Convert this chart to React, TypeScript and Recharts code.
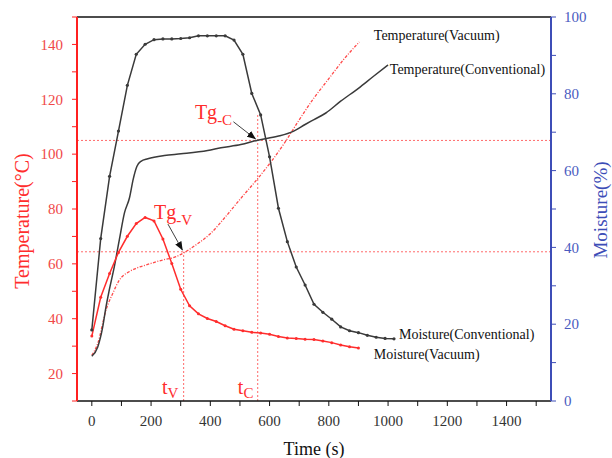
import { LineChart, Line, XAxis, YAxis, ReferenceLine } from 'recharts';

// conventional drying: moisture (right axis, %) sampled every 30 s
const moistConvTime = [
  0, 30, 60, 90, 120, 150, 180, 210, 240, 270, 300, 330, 360, 390, 420, 450, 480, 510,
  540, 570, 600, 630, 660, 690, 720, 750, 780, 810, 840, 870, 900, 930, 960, 990, 1020,
];
const moistConvValues = [
  18.5, 42.3, 58.5, 70.3, 82.2, 90.3, 92.9, 94.1, 94.3, 94.3, 94.4, 94.6, 95.1, 95.1, 95.1, 95.1, 94.0, 90.3,
  80.1, 74.5, 63.6, 50.2, 41.5, 34.9, 30.2, 25.2, 23.1, 21.3, 19.3, 18.3, 17.8, 17.1, 16.6, 16.3, 16.2,
];

// vacuum drying: moisture (right axis, %)
const moistVacTime = [
  0, 30, 60, 90, 120, 150, 180, 210, 240, 270, 300, 330, 360, 390, 420, 450,
  480, 510, 540, 570, 600, 630, 660, 690, 720, 750, 780, 810, 840, 870, 900,
];
const moistVacValues = [
  16.9, 27.0, 33.2, 38.7, 42.9, 46.2, 47.8, 46.9, 42.2, 35.8, 29.1, 24.8, 22.7, 21.5, 20.7, 19.6,
  18.7, 18.3, 17.9, 17.7, 17.4, 16.8, 16.4, 16.3, 16.1, 16.0, 15.6, 15.2, 14.6, 14.1, 13.8,
];

// temperatures (left axis, °C)
const tempConvTime = [
  0, 20, 37, 48, 59, 76, 93, 110, 127, 140, 152, 166, 189, 245, 301, 391, 436, 503,
  560, 627, 680, 720, 750, 790, 840, 900, 950, 1000,
];
const tempConvValues = [
  26.3, 29.7, 37.1, 44.4, 50.5, 59, 68.8, 78.5, 84, 91, 95.5, 97.4, 98.3, 99.5, 100.1, 101.3, 102.3, 103.5,
  105.1, 106.5, 108.3, 110.8, 112.6, 115, 119.3, 124, 128.3, 132.5,
];
const tempVacTime = [
  0, 20, 48, 71, 93, 127, 150, 183, 239, 284, 318, 350, 400, 450, 500, 550, 600, 650,
  700, 750, 800, 850, 903,
];
const tempVacValues = [
  26.7, 31, 43.2, 49.3, 54.1, 57.2, 58.4, 59.6, 61.4, 62.6, 64.5, 66.8, 71, 77, 83.5, 89.8, 96.5, 104,
  112.5, 120.5, 127.5, 134.5, 140.9,
];

// glass transition markers
const tgConv = { t: 560, T: 105 };
const tgVac = { t: 310, T: 64.4 };

const xTicks = [0, 100, 200, 300, 400, 500, 600, 700, 800, 900, 1000, 1100, 1200, 1300, 1400, 1500];
const leftTicks = [10, 20, 30, 40, 50, 60, 70, 80, 90, 100, 110, 120, 130, 140, 150];
const rightTicks = [0, 10, 20, 30, 40, 50, 60, 70, 80, 90, 100];

const X_DOMAIN: [number, number] = [-50, 1550];
const T_DOMAIN: [number, number] = [10, 150];

const zip = (ts: number[], vs: number[]) => ts.map((t, i) => ({ t, v: vs[i] }));
const moistConv = zip(moistConvTime, moistConvValues);
const moistVac = zip(moistVacTime, moistVacValues);
const tempConv = zip(tempConvTime, tempConvValues);
const tempVac = zip(tempVacTime, tempVacValues);

const W = 612;
const H = 458;
const MARGIN = { top: 17, left: 77, right: 61, bottom: 57 };
const plotW = W - MARGIN.left - MARGIN.right;
const plotH = H - MARGIN.top - MARGIN.bottom;
const FONT = '"Liberation Serif", "Times New Roman", serif';

const BLACK = '#3a3a3a';
const RED = '#ff2d2d';
const RED_LIGHT = '#ff6a6a';
const BLUE = '#3d4db7';

// data -> pixel, used for the overlay annotations
const px = (t: number) => MARGIN.left + ((t - X_DOMAIN[0]) / (X_DOMAIN[1] - X_DOMAIN[0])) * plotW;
const py = (T: number) => MARGIN.top + ((T_DOMAIN[1] - T) / (T_DOMAIN[1] - T_DOMAIN[0])) * plotH;

const seriesLabels = [
  { text: 'Temperature(Vacuum)', t: 952, T: 141.6 },
  { text: 'Temperature(Conventional)', t: 1006, T: 129.2 },
  { text: 'Moisture(Conventional)', t: 1037, T: 32.6 },
  { text: 'Moisture(Vacuum)', t: 952, T: 25.3 },
];

// serif tick text; `show` decides which tick values get a label
const makeTick = (anchor: 'start' | 'middle' | 'end', fill: string, show: (v: number) => boolean, dy: string) =>
  (props: any) => {
    const { x, y, payload } = props;
    if (!show(payload.value)) return <g />;
    return (
      <text x={x} y={y} dy={dy} textAnchor={anchor} fill={fill} fontSize={15} fontFamily={FONT}>
        {payload.value}
      </text>
    );
  };

const xTick = makeTick('middle', '#333', v => v % 200 === 0 && v <= 1400, '0.71em');
const leftTick = makeTick('end', '#f04848', v => v % 20 === 0, '0.35em');
const rightTick = makeTick('start', '#4a5bc0', v => v % 20 === 0, '0.35em');

function Overlay() {
  return (
    <svg width={W} height={H} style={{ position: 'absolute', left: 0, top: 0, pointerEvents: 'none' }} fontFamily={FONT}>
      <defs>
        <marker id="arrow" markerWidth="9" markerHeight="7" refX="8.5" refY="3.5" orient="auto" markerUnits="userSpaceOnUse">
          <path d="M0,0 L9,3.5 L0,7 Z" fill="#111" />
        </marker>
      </defs>

      {seriesLabels.map(l => (
        <text key={l.text} x={px(l.t)} y={py(l.T)} fontSize={14} fill="#111">{l.text}</text>
      ))}

      <text x={px(348)} y={py(112.8)} fontSize={20} fill={RED}>
        Tg<tspan fontSize={15} dy={6}>-C</tspan>
      </text>
      <line x1={px(478)} y1={py(111.8)} x2={px(553)} y2={py(105.5)} stroke="#111" strokeWidth={0.8} markerEnd="url(#arrow)" />

      <text x={px(210)} y={py(76.4)} fontSize={20} fill={RED}>
        Tg<tspan fontSize={15} dy={6}>-V</tspan>
      </text>
      <line x1={px(257)} y1={py(74.5)} x2={px(306)} y2={py(65)} stroke="#111" strokeWidth={0.8} markerEnd="url(#arrow)" />

      <text x={px(237)} y={py(12.6)} fontSize={20} fill={RED}>
        t<tspan fontSize={15} dy={4}>V</tspan>
      </text>
      <text x={px(493)} y={py(12.6)} fontSize={20} fill={RED}>
        t<tspan fontSize={15} dy={4}>C</tspan>
      </text>

      <text x={22} y={MARGIN.top + plotH / 2 + 12} fontSize={20} fill={RED} textAnchor="middle" dominantBaseline="central"
        transform={`rotate(-90 22 ${MARGIN.top + plotH / 2 + 12})`}>
        Temperature(°C)
      </text>
      <text x={600} y={210} fontSize={19} fill={BLUE} textAnchor="middle" dominantBaseline="central"
        transform="rotate(-90 600 210)">
        Moisture(%)
      </text>
      <text x={314} y={455} fontSize={18} fill="#111" textAnchor="middle">Time (s)</text>
    </svg>
  );
}

export default function App() {
  return (
    <div style={{ position: 'absolute', left: 0, top: 0, width: W, height: H, background: '#fff', fontFamily: FONT }}>
      <LineChart width={W} height={H} margin={{ top: MARGIN.top, right: 0, bottom: 0, left: 0 }}>
        <XAxis
          dataKey="t"
          type="number"
          domain={X_DOMAIN}
          ticks={xTicks}
          interval={0}
          allowDataOverflow
          height={MARGIN.bottom}
          tick={xTick}
          tickSize={5}
          tickMargin={9}
          axisLine={{ stroke: '#111', strokeWidth: 1.5 }}
          tickLine={{ stroke: '#111' }}
        />
        <YAxis
          yAxisId="left"
          type="number"
          domain={T_DOMAIN}
          ticks={leftTicks}
          interval={0}
          width={MARGIN.left}
          tick={leftTick}
          tickSize={5}
          tickMargin={9}
          axisLine={{ stroke: '#ff2020', strokeWidth: 2 }}
          tickLine={{ stroke: '#ff2020' }}
        />
        <YAxis
          yAxisId="right"
          orientation="right"
          type="number"
          domain={[0, 100]}
          ticks={rightTicks}
          interval={0}
          width={MARGIN.right}
          tick={rightTick}
          tickSize={5}
          tickMargin={8}
          axisLine={{ stroke: BLUE, strokeWidth: 2 }}
          tickLine={{ stroke: BLUE }}
        />

        <ReferenceLine yAxisId="left" y={150} stroke="#111" strokeWidth={1.5} />
        <ReferenceLine yAxisId="left" y={tgConv.T} stroke={RED_LIGHT} strokeDasharray="2 2" />
        <ReferenceLine yAxisId="left" y={tgVac.T} stroke={RED_LIGHT} strokeDasharray="2 2" />
        <ReferenceLine
          yAxisId="left"
          segment={[{ x: tgVac.t, y: T_DOMAIN[0] }, { x: tgVac.t, y: tgVac.T }]}
          stroke={RED_LIGHT}
          strokeDasharray="2 2"
        />
        <ReferenceLine
          yAxisId="left"
          segment={[{ x: tgConv.t, y: T_DOMAIN[0] }, { x: tgConv.t, y: 115 }]}
          stroke={RED_LIGHT}
          strokeDasharray="2 2"
        />

        <Line
          yAxisId="left"
          data={tempVac}
          dataKey="v"
          type="monotone"
          stroke="#ff4a4a"
          strokeWidth={1.3}
          strokeDasharray="3 1.5 1 1.5"
          dot={false}
          isAnimationActive={false}
        />
        <Line
          yAxisId="left"
          data={tempConv}
          dataKey="v"
          type="monotone"
          stroke={BLACK}
          strokeWidth={1.5}
          dot={false}
          isAnimationActive={false}
        />
        <Line
          yAxisId="right"
          data={moistConv}
          dataKey="v"
          type="linear"
          stroke={BLACK}
          strokeWidth={1.5}
          dot={{ r: 1.6, fill: BLACK, stroke: BLACK, strokeWidth: 0 }}
          isAnimationActive={false}
        />
        <Line
          yAxisId="right"
          data={moistVac}
          dataKey="v"
          type="linear"
          stroke={RED}
          strokeWidth={1.5}
          dot={{ r: 1.5, fill: RED, stroke: RED, strokeWidth: 0 }}
          isAnimationActive={false}
        />
      </LineChart>
      <Overlay />
    </div>
  );
}
